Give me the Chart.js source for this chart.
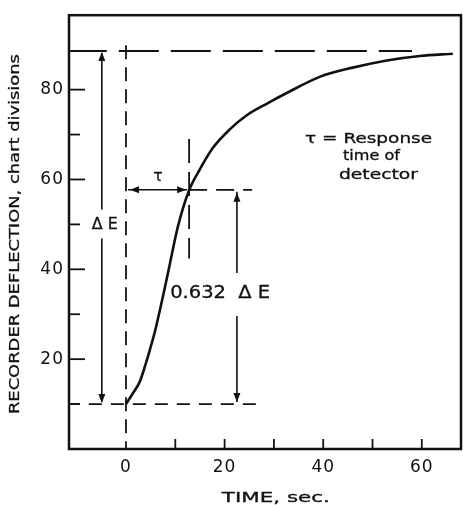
<!DOCTYPE html>
<html>
<head>
<meta charset="utf-8">
<script src="https://cdn.jsdelivr.net/npm/chart.js@4.4.1/dist/chart.umd.min.js"></script>
<style>
  html, body { margin: 0; padding: 0; background: #fff; }
  canvas { display: block; }
</style>
</head>
<body>
<canvas id="responseChart" width="463" height="505"></canvas>
<script>
// recorder trace
const timeSec    = [0, 1.4, 2.8, 3.9, 4.9, 5.9, 7.9, 8.9, 10.5, 12.8, 15.0, 17.6, 21.1, 24.5, 28.6, 32.7, 39.4, 46.0, 52.9, 59.6, 66.3];
const deflection = [10, 12.4, 15.0, 18.6, 22.3, 26.3, 36.0, 41.2, 49.4, 57.6, 62.3, 67.0, 71.2, 74.3, 76.9, 79.3, 82.9, 84.9, 86.5, 87.5, 88.0];

const xTickLabels = [0, 20, 40, 60];
const yTickLabels = [20, 40, 60, 80];
const xTickMarks  = [10, 20, 30, 40, 50, 60];
const yTickMarks  = [10, 20, 30, 40, 50, 60, 70, 80];

// levels used by the construction lines
const baseLevel  = 10;
const finalLevel = 88.6;
const tauSec     = 12.8;
const tauLevel   = 57.7;

const INK = '#111';
const FONT = '"DejaVu Sans", sans-serif';

function seg(x1, y1, x2, y2) {
    return [{ x: x1, y: y1 }, { x: x2, y: y2 }];
}

function dashed(data, dash) {
    return {
        data: data,
        borderColor: INK,
        borderWidth: 1.8,
        borderDash: dash,
        pointRadius: 0,
        tension: 0,
        fill: false
    };
}

// draw text stretched to the given width (the original lettering is wide)
function fitText(ctx, text, cx, cy, width, font) {
    ctx.save();
    ctx.font = font;
    ctx.letterSpacing = '0px';
    const w = ctx.measureText(text).width;
    ctx.translate(cx, cy);
    ctx.scale(width / w, 1);
    ctx.textAlign = 'center';
    ctx.textBaseline = 'middle';
    ctx.lineWidth = 0.3;
    ctx.fillText(text, 0, 0);
    ctx.strokeText(text, 0, 0);
    ctx.restore();
}

function arrowHead(ctx, x, y, dir) {
    const L = 9, W = 3.5;
    ctx.beginPath();
    ctx.moveTo(x, y);
    if (dir === 'up')    { ctx.lineTo(x - W, y + L); ctx.lineTo(x + W, y + L); }
    if (dir === 'down')  { ctx.lineTo(x - W, y - L); ctx.lineTo(x + W, y - L); }
    if (dir === 'left')  { ctx.lineTo(x + L, y - W); ctx.lineTo(x + L, y + W); }
    if (dir === 'right') { ctx.lineTo(x - L, y - W); ctx.lineTo(x - L, y + W); }
    ctx.closePath();
    ctx.fill();
}

function line(ctx, x1, y1, x2, y2) {
    ctx.beginPath();
    ctx.moveTo(x1, y1);
    ctx.lineTo(x2, y2);
    ctx.stroke();
}

const figurePlugin = {
    id: 'figure',
    beforeDraw(chart) {
        const ctx = chart.ctx;
        ctx.save();
        ctx.fillStyle = '#fff';
        ctx.fillRect(0, 0, chart.width, chart.height);
        ctx.restore();
        ctx.letterSpacing = '1px';
    },
    afterDatasetsDraw(chart) {
        const ctx = chart.ctx;
        const xs = chart.scales.x, ys = chart.scales.y;
        const a = chart.chartArea;
        ctx.save();
        ctx.letterSpacing = '0px';
        ctx.strokeStyle = INK;
        ctx.fillStyle = INK;
        ctx.setLineDash([]);

        // frame
        ctx.lineWidth = 2.5;
        ctx.strokeRect(a.left, a.top, a.right - a.left, a.bottom - a.top);

        // inward tick marks
        ctx.lineWidth = 1.8;
        xTickMarks.forEach(v => {
            const px = xs.getPixelForValue(v);
            line(ctx, px, a.bottom, px, a.bottom - 10);
        });
        yTickMarks.forEach(v => {
            const py = ys.getPixelForValue(v);
            line(ctx, a.left, py, a.left + (v % 20 === 0 ? 16 : 11), py);
        });

        // delta E arrow
        ctx.lineWidth = 1.6;
        const xe = xs.getPixelForValue(-4.9);
        const yTop = ys.getPixelForValue(finalLevel);
        const yBase = ys.getPixelForValue(baseLevel);
        const yMid = (yTop + yBase) / 2 - 3;
        line(ctx, xe, yTop + 2, xe, yMid - 15);
        line(ctx, xe, yMid + 14, xe, yBase - 2);
        arrowHead(ctx, xe, yTop + 1, 'up');
        arrowHead(ctx, xe, yBase - 1, 'down');
        fitText(ctx, 'Δ E', xe + 3, yMid, 26, '16px ' + FONT);

        // 0.632 delta E arrow
        const xp = xs.getPixelForValue(22.5);
        const yTau = ys.getPixelForValue(tauLevel);
        const yLab = ys.getPixelForValue(34.5);
        line(ctx, xp, yTau + 2, xp, yLab - 21);
        line(ctx, xp, yLab + 22, xp, yBase - 2);
        arrowHead(ctx, xp, yTau + 3, 'up');
        arrowHead(ctx, xp, yBase - 2, 'down');
        fitText(ctx, '0.632  Δ E', xs.getPixelForValue(19.1), yLab, 100, '17px ' + FONT);

        // tau arrow
        const x0 = xs.getPixelForValue(0);
        const xt = xs.getPixelForValue(tauSec);
        line(ctx, x0 + 2, yTau, xt - 2, yTau);
        arrowHead(ctx, x0 + 4, yTau, 'left');
        arrowHead(ctx, xt - 3, yTau, 'right');
        fitText(ctx, 'τ', xs.getPixelForValue(6.5), ys.getPixelForValue(60.6), 9, '15px ' + FONT);

        // note
        fitText(ctx, 'τ = Response', xs.getPixelForValue(49.2), ys.getPixelForValue(69), 127, '14px ' + FONT);
        fitText(ctx, 'time of', xs.getPixelForValue(49.8), ys.getPixelForValue(65.2), 57, '14px ' + FONT);
        fitText(ctx, 'detector', xs.getPixelForValue(51.2), ys.getPixelForValue(61.0), 79, '14px ' + FONT);

        // axis titles
        fitText(ctx, 'TIME, sec.', xs.getPixelForValue(30.4), chart.height - 7, 108, '14px ' + FONT);
        ctx.translate(15, (a.top + a.bottom) / 2 + 2);
        ctx.rotate(-Math.PI / 2);
        fitText(ctx, 'RECORDER DEFLECTION, chart divisions', 0, 0, 360, '14px ' + FONT);
        ctx.restore();
    }
};

const ctx = document.getElementById('responseChart').getContext('2d');
new Chart(ctx, {
    type: 'line',
    data: {
        datasets: [
            {
                data: timeSec.map((t, i) => ({ x: t, y: deflection[i] })),
                borderColor: INK,
                borderWidth: 2.6,
                pointRadius: 0,
                cubicInterpolationMode: 'monotone',
                fill: false
            },
            dashed(seg(-12, finalLevel, 58, finalLevel), [40, 12]),
            dashed(seg(-12, baseLevel, 26.6, baseLevel), [13, 9]),
            dashed(seg(0, 89.9, 0, 0), [14, 8]),
            dashed(seg(tauSec, 69, tauSec, 42.4), [24, 9]),
            dashed(seg(tauSec, tauLevel, 25.6, tauLevel), [18, 9])
        ]
    },
    options: {
        responsive: false,
        animation: false,
        devicePixelRatio: 1,
        layout: { padding: { top: 12, right: 2, left: 0, bottom: 0 } },
        plugins: { legend: { display: false }, tooltip: { enabled: false } },
        scales: {
            x: {
                type: 'linear',
                min: -11.56,
                max: 67.95,
                grid: { display: false, drawTicks: false },
                border: { display: false },
                afterBuildTicks: s => { s.ticks = xTickLabels.map(v => ({ value: v })); },
                afterFit: s => { s.height = 56; },
                ticks: { color: INK, padding: 8, maxRotation: 0, font: { family: FONT, size: 17 } }
            },
            y: {
                min: 0,
                max: 96.57,
                grid: { display: false, drawTicks: false },
                border: { display: false },
                afterBuildTicks: s => { s.ticks = yTickLabels.map(v => ({ value: v })); },
                afterFit: s => { s.width = 69; },
                ticks: { color: INK, padding: 5, font: { family: FONT, size: 17 } }
            }
        }
    },
    plugins: [figurePlugin]
});
</script>
</body>
</html>
